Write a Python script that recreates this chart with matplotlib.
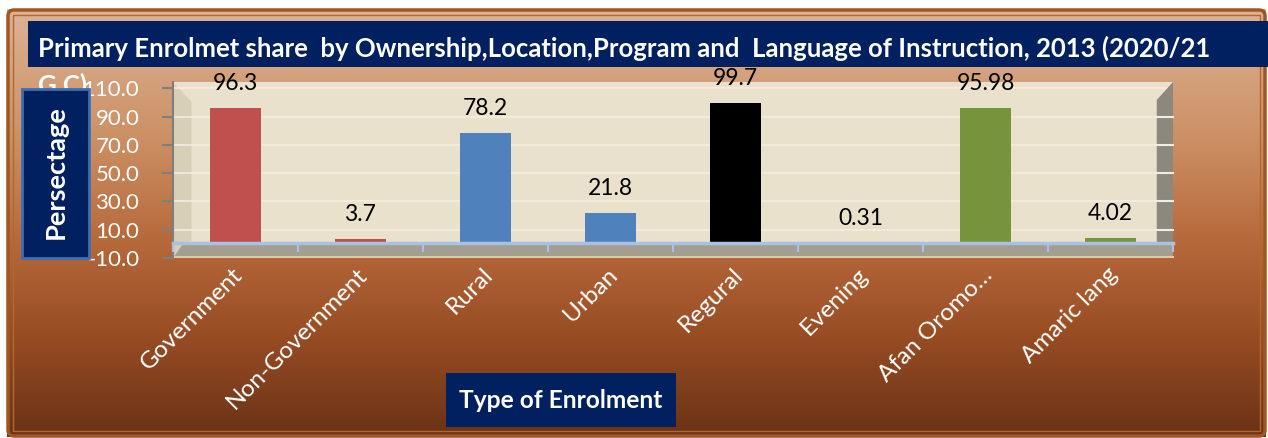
import numpy as np
import matplotlib
matplotlib.use("Agg")
import matplotlib.pyplot as plt
from matplotlib.patches import Rectangle, Polygon, FancyBboxPatch
from matplotlib.colors import to_rgb

plt.rcParams['font.family'] = ['Lato', 'DejaVu Sans']

# ---------------- data ----------------
categories = ["Government", "Non-Government", "Rural", "Urban", "Regural",
              "Evening", "Afan Oromo\u2026", "Amaric lang"]
values = [96.3, 3.7, 78.2, 21.8, 99.7, 0.31, 95.98, 4.02]
bar_colors = ["#c0504d", "#c0504d", "#4f81bd", "#4f81bd", "#000000",
              "#000000", "#77933c", "#77933c"]
y_ticks = [-10, 10, 30, 50, 70, 90, 110]
title_line1 = "Primary Enrolmet share  by Ownership,Location,Program and  Language of Instruction, 2013 (2020/21"
title_line2 = "G.C)"
y_title = "Persectage"
x_title = "Type of Enrolment"

W, H = 1268, 438
fig = plt.figure(figsize=(W / 100, H / 100), dpi=100)
fig.patch.set_facecolor("white")

# ---------------- background (pixel coords) ----------------
bg = fig.add_axes([0, 0, 1, 1], zorder=0)
bg.set_xlim(0, W)
bg.set_ylim(H, 0)
bg.axis("off")

stops = [(0.0, "#dcb396"), (0.30, "#cc9064"), (0.55, "#b5683a"),
         (0.75, "#9a4e24"), (1.0, "#6a3216")]
n = 256
grad = np.zeros((n, 1, 3))
pos = np.linspace(0, 1, n)
for c in range(3):
    grad[:, 0, c] = np.interp(pos, [s[0] for s in stops], [to_rgb(s[1])[c] for s in stops])
fx0, fy0, fx1, fy1 = 7, 9, 1266, 437
bg.imshow(grad, extent=(fx0, fx1, fy1, fy0), aspect="auto", interpolation="bilinear", zorder=0)
bg.add_patch(FancyBboxPatch((fx0 + 1, fy0 + 1), fx1 - fx0 - 2, fy1 - fy0 - 2,
                            boxstyle="round,pad=0,rounding_size=6",
                            fill=False, ec="#a2561f", lw=2.5, zorder=2))
bg.add_patch(Rectangle((fx0 + 6, fy0 + 6), fx1 - fx0 - 12, fy1 - fy0 - 12,
                       fill=False, ec="#b2682f", lw=1.0, zorder=2))

# ---------------- main axes ----------------
x_left, x_right = 172.7, 1173.0
y_top, y_bot = 82.0, 258.0
ymin, ymax = -10, 114.5
ax = fig.add_axes([x_left / W, 1 - y_bot / H, (x_right - x_left) / W, (y_bot - y_top) / H], zorder=2)
ax.set_xlim(0, len(categories))
ax.set_ylim(ymin, ymax)
ax.patch.set_alpha(0)
n_cat = len(categories)

# back wall
ax.add_patch(Rectangle((0, 0), n_cat, ymax, fc="#e9e1cc", ec="none", zorder=0))
# left wall shading
ax.add_patch(Polygon([(0, ymin), (0, ymax), (0.15, 100.5), (0.15, 0)], closed=True,
                     fc="#d8cfb8", ec="none", zorder=0.5))
# gridlines on back wall
for t in y_ticks:
    if t > 0:
        ax.plot([0, n_cat], [t, t], color="#f4eee0", lw=1.2, zorder=0.6)
# right side wall
ax.add_patch(Polygon([(7.87, 0), (7.87, 101.8), (8.0, ymax), (8.0, 0)], closed=True,
                     fc="#8d887e", ec="none", zorder=0.7, clip_on=False))
for t in y_ticks:
    if 0 < t < 101:
        ax.plot([7.87, 8.0], [t, t], color="#f2ede2", lw=1.5, zorder=0.8, clip_on=False)
# floor
ax.add_patch(Polygon([(0, ymin), (n_cat, ymin), (n_cat, 0), (0.08, 0)], closed=True,
                     fc="#a49e91", ec="none", zorder=0.7, clip_on=False))
ax.plot([0, n_cat], [ymin + 0.6, ymin + 0.6], color="#d6cca8", lw=1.5, zorder=0.9, clip_on=False)

# bars
xs = np.arange(n_cat) + 0.5
ax.bar(xs, values, width=0.41, color=bar_colors, zorder=2)

# category axis line and ticks
ax.plot([0, n_cat], [0.9, 0.9], color="#a8c2e6", lw=2.5, zorder=3, clip_on=False)
for b in range(n_cat + 1):
    ax.plot([b, b], [0.9, -4.8], color="#a8c2e6", lw=1.5, zorder=3, clip_on=False)

# data labels
for x, v in zip(xs, values):
    ax.annotate(f"{v:g}", (x, v), xytext=(0, 13), textcoords="offset points",
                ha="center", va="baseline", fontsize=16.5, color="black", zorder=4,
                annotation_clip=False)

# y axis
ax.set_yticks(y_ticks)
ax.set_yticklabels([f"{t:.1f}" for t in y_ticks])
ax.tick_params(axis="y", direction="out", length=8, width=1.5, color="#7f7f7f",
               labelcolor="white", labelsize=16, pad=16)
ax.set_xticks([])
for s in ["top", "right", "bottom"]:
    ax.spines[s].set_visible(False)
ax.spines["left"].set_color("#7f7f7f")
ax.spines["left"].set_linewidth(1.5)

# x category labels
for x, lab in zip(xs, categories):
    ax.text(x + 0.03, -19.5, lab, rotation=45, ha="right", va="center",
            rotation_mode="anchor", fontsize=17.5, color="white", zorder=4, clip_on=False)

# ---------------- overlay (titles, boxes) ----------------
ov = fig.add_axes([0, 0, 1, 1], zorder=3)
ov.set_xlim(0, W)
ov.set_ylim(H, 0)
ov.axis("off")
ov.patch.set_alpha(0)

renderer = fig.canvas.get_renderer()


def fit(t, target, dim="w"):
    ext = t.get_window_extent(renderer)
    cur = ext.width if dim == "w" else ext.height
    t.set_fontsize(t.get_fontsize() * target / cur)


ov.add_patch(Rectangle((28, 21), W - 28, 46, fc="#002060", ec="none", zorder=2))
t1 = ov.text(38, 57, title_line1, ha="left", va="baseline", color="white",
             fontweight="bold", fontsize=18, zorder=3)
fit(t1, 1175)
t2 = ov.text(38, 94, title_line2, ha="left", va="baseline", color="white",
             fontweight="bold", fontsize=t1.get_fontsize(), zorder=1)

ov.add_patch(Rectangle((22, 89), 67, 169, fc="#002060", ec="#3d6fb0", lw=2, zorder=2))
ty = ov.text(55.5, 172, y_title, rotation=90, ha="center", va="center", color="white",
             fontweight="bold", fontsize=18, zorder=3)
fit(ty, 134, "h")

ov.add_patch(Rectangle((446, 373), 230, 54, fc="#002060", ec="none", zorder=2))
tx = ov.text(561, 400, x_title, ha="center", va="center", color="white",
             fontweight="bold", fontsize=16, zorder=3)
fit(tx, 204)

fig.savefig("out.png", dpi=100)
